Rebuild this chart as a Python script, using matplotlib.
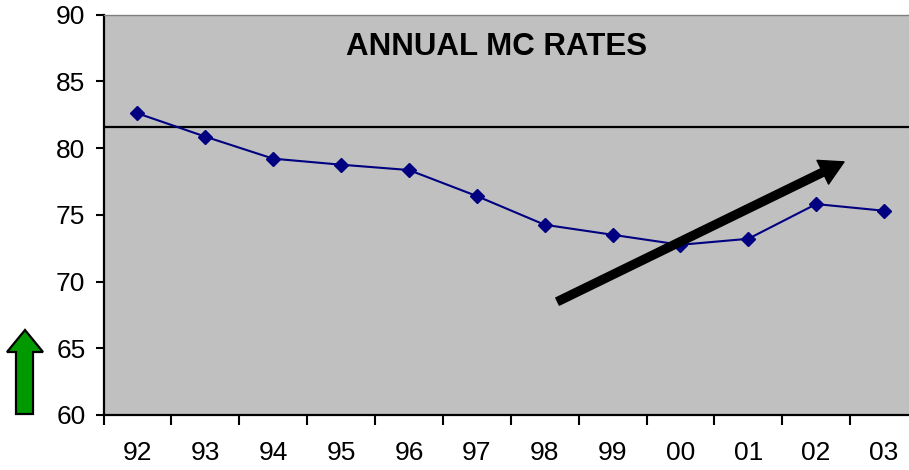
import matplotlib
matplotlib.use("Agg")
import matplotlib.pyplot as plt
from matplotlib.patches import FancyArrowPatch, Polygon
import numpy as np

years = ["92", "93", "94", "95", "96", "97", "98", "99", "00", "01", "02", "03"]
rates = [82.6, 80.85, 79.2, 78.75, 78.35, 76.4, 74.25, 73.5, 72.75, 73.2, 75.8, 75.3]
reference_level = 81.6
trend_start = (6.19, 68.5)
trend_end = (10.41, 78.96)
title = "ANNUAL MC RATES"

W, H = 909, 470
plt.rcParams['font.family'] = ['Liberation Sans', 'DejaVu Sans']
fig = plt.figure(figsize=(W / 100, H / 100), dpi=100)
fig.patch.set_facecolor("white")

left, right, top, bottom = 103.5, 918, 14.5, 415
ax = fig.add_axes([left / W, 1 - bottom / H, (right - left) / W, (bottom - top) / H])
ax.set_facecolor("#C0C0C0")

x = np.arange(len(years))
ax.plot(x, rates, color="#000080", lw=1.5, marker="D", ms=7.2,
        markerfacecolor="#000080", markeredgecolor="#000080", zorder=3)
ax.axhline(reference_level, color="black", lw=1.6, zorder=2)

ax.set_xlim(-0.5, len(years) - 0.5)
ax.set_ylim(60, 90)
ax.set_yticks(np.arange(60, 91, 5))
ax.set_xticks(x)
ax.set_xticklabels(years)
ax.set_xticks(np.arange(-0.5, len(years), 1), minor=True)
ax.tick_params(axis="x", which="major", length=0, pad=19, labelsize=19)
ax.tick_params(axis="x", which="minor", length=7, width=1.5, direction="out")
ax.tick_params(axis="y", length=6, width=1.5, pad=7, labelsize=19)

for s in ["left", "bottom"]:
    ax.spines[s].set_linewidth(1.6)
    ax.spines[s].set_color("black")
ax.spines["top"].set_color("#808080")
ax.spines["top"].set_linewidth(1.0)
ax.spines["right"].set_visible(False)

ax.text(0.482, 0.92, title, transform=ax.transAxes, ha="center", va="center",
        fontsize=22.5, fontweight="bold")

arr = FancyArrowPatch(trend_start, trend_end,
                      arrowstyle="simple,head_length=17,head_width=19,tail_width=5.8",
                      mutation_scale=1, color="black", shrinkA=0, shrinkB=0, zorder=4)
ax.add_patch(arr)

# green up arrow (decoration, figure pixels)
pts = [(25, 330), (43, 352), (33, 352), (33, 414), (16, 414), (16, 352), (7, 352)]
poly = Polygon([(px / W, 1 - py / H) for px, py in pts], closed=True,
               transform=fig.transFigure, facecolor="#009900", edgecolor="black", lw=1.6)
fig.patches.append(poly)

fig.savefig("out.png", dpi=100)
